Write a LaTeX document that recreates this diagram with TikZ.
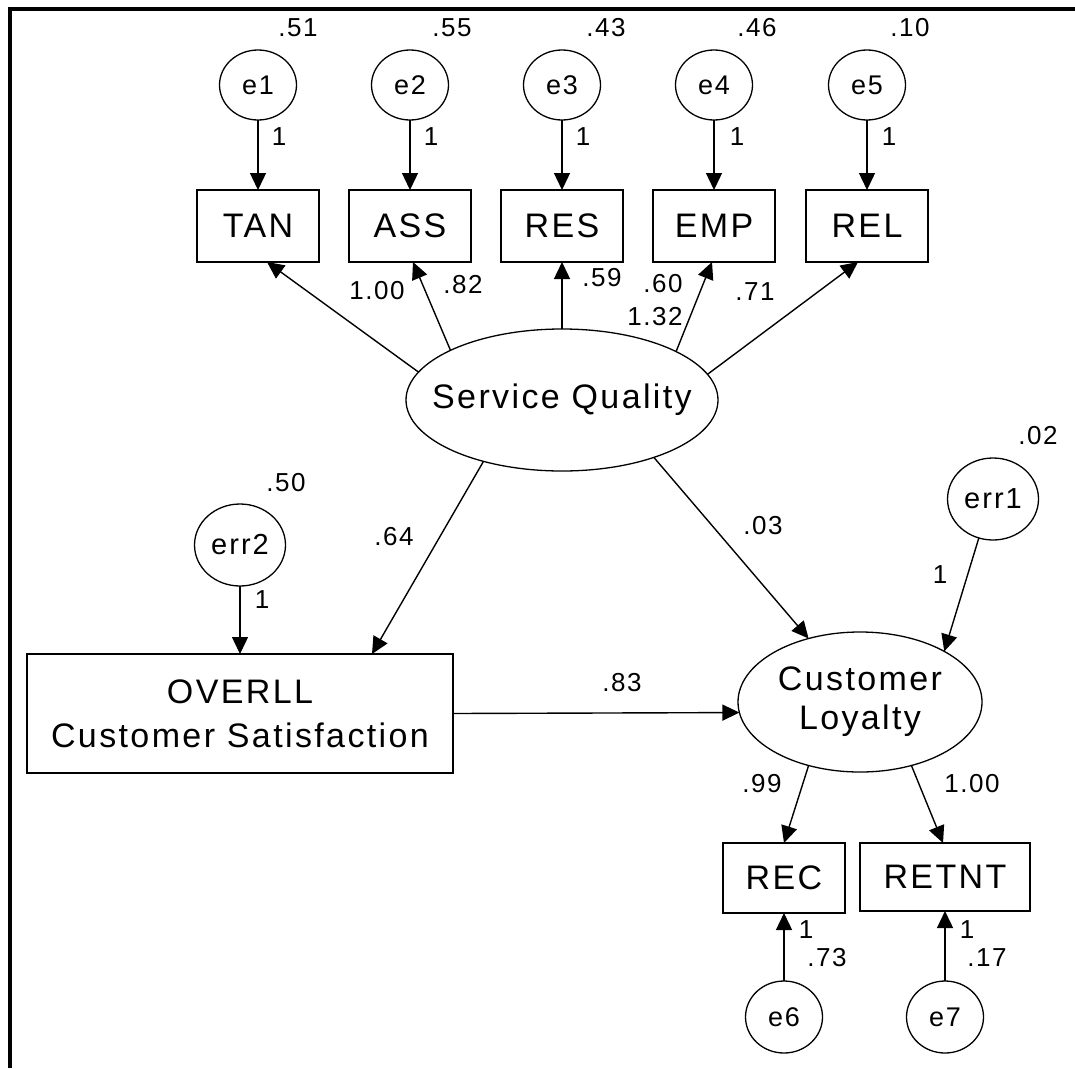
\documentclass[tikz,border=0pt]{standalone}
\usepackage{fontspec}
\setmainfont{Liberation Sans}
\newfontfamily\boxfont[LetterSpace=7]{Liberation Sans}
\newfontfamily\numfont[LetterSpace=6]{Liberation Sans}
\usetikzlibrary{arrows.meta,shapes.geometric}

\begin{document}
\begin{tikzpicture}[x=1pt,y=-1pt,
  observed/.style={draw, line width=1.6pt, inner sep=0pt, outer sep=0pt,
    minimum width=122pt, minimum height=72pt,
    font=\boxfont\fontsize{34}{40}\selectfont},
  errc/.style={ellipse, draw, line width=1.3pt, inner sep=0pt, outer sep=0pt,
    minimum width=77pt, minimum height=70pt,
    font=\boxfont\fontsize{27}{32}\selectfont},
  errbig/.style={ellipse, draw, line width=1.3pt, inner sep=0pt, outer sep=0pt,
    minimum width=91pt, minimum height=82pt,
    font=\boxfont\fontsize{29}{34}\selectfont},
  latent/.style={ellipse, draw, line width=1.3pt, inner sep=0pt, outer sep=0pt},
  ltext/.style={font=\boxfont\fontsize{34}{40}\selectfont, align=center, inner sep=0pt},
  num/.style={font=\numfont\fontsize{26}{30}\selectfont, inner sep=0pt},
  arr/.style={line width=1.4pt, -{Triangle[length=17pt,width=16pt]}}
]
% canvas and frame
\useasboundingbox (0,0) rectangle (1075,1068);
\fill[white] (0,0) rectangle (1075,1068);
\draw[line width=4pt] (9.5,1068) -- (9.5,8.5) -- (1075,8.5);

% indicators of service quality
\node[observed] (tan) at (258,226) {TAN};
\node[observed] (ass) at (410,226) {ASS};
\node[observed] (res) at (562,226) {RES};
\node[observed] (emp) at (714,226) {EMP};
\node[observed] (rel) at (867,226) {REL};

% their error terms
\node[errc] (e1) at (258,85) {e1};
\node[errc] (e2) at (410,85) {e2};
\node[errc] (e3) at (562,85) {e3};
\node[errc] (e4) at (714,85) {e4};
\node[errc] (e5) at (867,85) {e5};

% latent constructs
\node[latent, minimum width=312pt, minimum height=142pt,
      label={[ltext]center:Service Quality}] (sq) at (562,400) {};
\node[latent, minimum width=244pt, minimum height=140pt,
      label={[ltext]center:Customer\\[-1pt]Loyalty}] (cl) at (860,702) {};

% satisfaction box
\node[observed, minimum width=426pt, minimum height=119pt, align=center,
      font=\boxfont\fontsize{34}{44}\selectfont] (ov) at (240,713.5)
      {OVERLL\\Customer Satisfaction};

% disturbances
\node[errbig] (err2) at (240,545) {err2};
\node[errbig] (err1) at (993,499) {err1};

% loyalty indicators
\node[observed, minimum height=70pt] (rec) at (784,878) {REC};
\node[observed, minimum width=170pt, minimum height=68pt] (retnt) at (945,877) {RETNT};
\node[errc, minimum height=72pt] (e6) at (784,1017) {e6};
\node[errc, minimum height=72pt] (e7) at (945,1017) {e7};

% paths
\draw[arr] (e1) -- (tan);
\draw[arr] (e2) -- (ass);
\draw[arr] (e3) -- (res);
\draw[arr] (e4) -- (emp);
\draw[arr] (e5) -- (rel);
\draw[arr] (sq.169) -- ([xshift=9pt]tan.south);
\draw[arr] (sq.156) -- ([xshift=3pt]ass.south);
\draw[arr] (sq.90) -- (res.south);
\draw[arr] (sq.23) -- ([xshift=-2pt]emp.south);
\draw[arr] (sq.10.5) -- ([xshift=-9pt]rel.south);
\draw[arr] (sq.218.6) -- ([xshift=132pt]ov.north);
\draw[arr] (sq.328.5) -- (cl.129.6);
\draw[arr] (err2) -- (ov);
\draw[arr] (err1.250) -- (cl.31);
\draw[arr] (ov.east) -- (cl.185);
\draw[arr] (cl.231) -- (rec.north);
\draw[arr] (cl.309) -- ([xshift=-2pt]retnt.north);
\draw[arr] (e6) -- (rec);
\draw[arr] (e7) -- (retnt);

% variances
\node[num] (v1) at (298,28) {.51};
\node[num] (v2) at (452,28) {.55};
\node[num] (v3) at (606,28) {.43};
\node[num] (v4) at (757,28) {.46};
\node[num] (v5) at (910,28) {.10};
\node[num] (v6) at (286,483) {.50};
\node[num] (v7) at (1038,436) {.02};
\node[num] (v8) at (827,958) {.73};
\node[num] (v9) at (987,958) {.17};

% fixed error weights
\node[num] (f1) at (279,137) {1};
\node[num] (f2) at (431,137) {1};
\node[num] (f3) at (583,137) {1};
\node[num] (f4) at (737,137) {1};
\node[num] (f5) at (889,137) {1};
\node[num] (f6) at (262,600) {1};
\node[num] (f7) at (940,575) {1};
\node[num] (f8) at (806,930) {1};
\node[num] (f9) at (967,930) {1};

% path coefficients
\node[num] (c1) at (377,291) {1.00};
\node[num] (c2) at (463,285) {.82};
\node[num] (c3) at (602,278) {.59};
\node[num] (c4) at (663,284) {.60};
\node[num] (c5) at (655,317) {1.32};
\node[num] (c6) at (755,292) {.71};
\node[num] (c7) at (394,537) {.64};
\node[num] (c8) at (763,526) {.03};
\node[num] (c9) at (622,683) {.83};
\node[num] (c10) at (762,784) {.99};
\node[num] (c11) at (972,784) {1.00};
\end{tikzpicture}
\end{document}
